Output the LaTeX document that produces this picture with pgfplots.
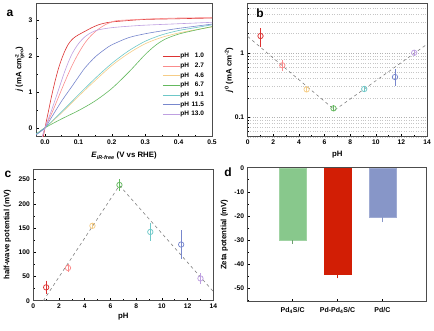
\documentclass[border=0pt]{standalone}
\usepackage{pgfplots}
\pgfplotsset{compat=1.18}
\usepackage{fontspec}
\setmainfont{Liberation Sans}
\definecolor{cRed}{RGB}{220,50,50}
\definecolor{cPink}{RGB}{250,140,140}
\definecolor{cYel}{RGB}{245,205,135}
\definecolor{cGrn}{RGB}{100,185,95}
\definecolor{cCyan}{RGB}{110,200,200}
\definecolor{cBlue}{RGB}{120,135,205}
\definecolor{cPurp}{RGB}{190,160,225}
\definecolor{bGrn}{RGB}{136,200,140}
\definecolor{bRed}{RGB}{210,30,5}
\definecolor{bBlue}{RGB}{135,150,200}
\begin{document}
\begin{tikzpicture}[x=1pt,y=1pt]
\path[use as bounding box] (0,0) rectangle (434,330);
\pgfplotsset{
 common/.style={scale only axis, anchor=south west, tick align=inside,
  xtick pos=left, ytick pos=left, major tick length=2.5pt, minor tick length=1.5pt,
  axis line style={line width=0.5pt, black!70},
  tick style={black, line width=0.5pt},
  ticklabel style={font=\fontsize{6.7}{7}\selectfont\bfseries},
  label style={font=\fontsize{7.8}{8}\selectfont\bfseries},
  /pgf/number format/assume math mode=true,
  every axis plot/.append style={line width=0.75pt}},
 pt/.style={only marks, mark=o, mark size=2.7pt, color=#1,
  error bars/y dir=both, error bars/y explicit,
  error bars/error bar style={color=#1, line width=0.7pt},
  error bars/error mark options={line width=0.7pt, mark size=2pt, color=#1}}
}
% ---------- a ----------
\begin{axis}[common, at={(36pt,194pt)}, width=176pt, height=133pt,
 xmin=-0.027, xmax=0.5, ymin=-0.23, ymax=3.49,
 xtick={0,0.1,0.2,0.3,0.4,0.5},
 xticklabel style={/pgf/number format/.cd, fixed, fixed zerofill, precision=1},
 ytick={0,1,2,3}, minor xtick={0.05,0.15,0.25,0.35,0.45}, minor ytick={0.5,1.5,2.5},
 xlabel={\textit{E}\textsubscript{\textit{iR}-\textit{free}} (V vs RHE)},
 ylabel={\textit{j} (mA cm\makebox[0pt][l]{\raisebox{0.7ex}{\fontsize{5}{5}\selectfont -2}}\raisebox{-0.5ex}{\fontsize{5}{5}\selectfont geo})},
 x label style={at={(axis description cs:0.5,-0.15)}, anchor=center},
 y label style={at={(axis description cs:-0.092,0.5)}, anchor=center},
 legend style={at={(axis description cs:0.957,0.625)}, anchor=north east, draw=none, fill=none,
  font=\fontsize{6.5}{7}\selectfont\bfseries, row sep=3pt, inner sep=0pt, nodes={inner sep=0.3pt}},
 legend cell align=left,
 every axis plot/.append style={line width=0.6pt}]
\addplot[cRed, smooth] coordinates {(-0.01,-0.5)(0,0)(0.01,0.45)(0.02,0.9)(0.03,1.3)(0.04,1.65)(0.05,1.93)(0.06,2.16)(0.07,2.34)(0.08,2.46)(0.09,2.54)(0.1,2.6)(0.12,2.7)(0.14,2.8)(0.16,2.88)(0.18,2.93)(0.2,2.96)(0.25,3.0)(0.3,3.03)(0.4,3.05)(0.5,3.07)};
\addlegendentry{pH\ \makebox[2em][r]{1.0}}
\addplot[cPink, smooth] coordinates {(-0.01,-0.35)(0,0)(0.02,0.4)(0.04,0.85)(0.06,1.3)(0.08,1.72)(0.1,2.08)(0.12,2.38)(0.14,2.6)(0.16,2.76)(0.18,2.88)(0.2,2.96)(0.22,3.0)(0.3,3.04)(0.4,3.07)(0.5,3.08)};
\addlegendentry{pH\ \makebox[2em][r]{2.7}}
\addplot[cYel, smooth] coordinates {(-0.027,-0.17)(0,0)(0.05,0.42)(0.1,0.88)(0.15,1.32)(0.2,1.74)(0.25,2.08)(0.3,2.35)(0.35,2.53)(0.4,2.65)(0.45,2.74)(0.5,2.82)};
\addlegendentry{pH\ \makebox[2em][r]{4.6}}
\addplot[cGrn, smooth] coordinates {(-0.027,-0.18)(0,0)(0.05,0.25)(0.1,0.48)(0.15,0.75)(0.2,1.1)(0.25,1.55)(0.28,1.85)(0.3,2.05)(0.33,2.3)(0.36,2.48)(0.4,2.62)(0.45,2.73)(0.5,2.83)};
\addlegendentry{pH\ \makebox[2em][r]{6.7}}
\addplot[cCyan, smooth] coordinates {(-0.027,-0.17)(0,0)(0.05,0.45)(0.1,0.92)(0.15,1.38)(0.2,1.8)(0.25,2.15)(0.3,2.42)(0.35,2.6)(0.4,2.72)(0.45,2.8)(0.5,2.88)};
\addlegendentry{pH\ \makebox[2em][r]{9.1}}
\addplot[cBlue, smooth] coordinates {(-0.027,-0.2)(0,0)(0.02,0.3)(0.05,0.75)(0.08,1.15)(0.1,1.42)(0.12,1.68)(0.15,1.98)(0.18,2.2)(0.2,2.32)(0.25,2.52)(0.3,2.63)(0.35,2.71)(0.4,2.78)(0.45,2.84)(0.5,2.9)};
\addlegendentry{pH\ \makebox[2em][r]{11.5}}
\addplot[cPurp, smooth] coordinates {(-0.01,-0.3)(0,0)(0.02,0.5)(0.04,1.05)(0.06,1.6)(0.08,2.05)(0.1,2.35)(0.12,2.55)(0.14,2.67)(0.16,2.74)(0.2,2.8)(0.25,2.84)(0.3,2.87)(0.4,2.91)(0.5,2.95)};
\addlegendentry{pH\ \makebox[2em][r]{13.0}}
\end{axis}
% ---------- b ----------
\begin{axis}[common, at={(247.7pt,193.3pt)}, width=179.3pt, height=133.7pt,
 ymode=log, xmin=0, xmax=14, ymin=0.05, ymax=6,
 xtick={0,2,...,14}, minor xtick={1,3,...,13},
 ytick={0.1,1}, yticklabels={0.1,1},
 minor ytick={0.05,0.06,0.07,0.08,0.09,0.2,0.3,0.4,0.5,0.6,0.7,0.8,0.9,2,3,4,5,6},
 ymajorgrids, yminorgrids, major grid style={dotted, gray!60}, minor grid style={dotted, gray!45},
 xlabel={pH}, ylabel={\textit{j}\textsuperscript{0} (mA cm\textsuperscript{-2})},
 x label style={at={(axis description cs:0.5,-0.137)}, anchor=center},
 y label style={at={(axis description cs:-0.104,0.5)}, anchor=center}]
\addplot[gray, dashed, line width=0.6pt] coordinates {(0,1.81)(6.8,0.13)(14,1.37)};
\addplot[pt=cRed] coordinates {(1.0,1.84) += (0,0.44) -= (0,0.51)};
\addplot[pt=cPink] coordinates {(2.7,0.645) += (0,0.08) -= (0,0.08)};
\addplot[pt=cYel] coordinates {(4.6,0.272) += (0,0.01) -= (0,0.01)};
\addplot[pt=cGrn, mark options={fill=cGrn!60}] coordinates {(6.7,0.138) += (0,0.005) -= (0,0.005)};
\addplot[pt=cCyan] coordinates {(9.1,0.276) += (0,0.01) -= (0,0.01)};
\addplot[pt=cBlue] coordinates {(11.5,0.424) += (0,0.1) -= (0,0.09)};
\addplot[pt=cPurp] coordinates {(13.0,1.01) += (0,0.03) -= (0,0.03)};
\end{axis}
% ---------- c ----------
\begin{axis}[common, at={(33.3pt,29.3pt)}, width=180pt, height=131.7pt,
 xmin=0, xmax=14, ymin=0, ymax=272,
 xtick={0,2,...,14}, minor xtick={1,3,...,13},
 ytick={0,50,...,250}, minor ytick={25,75,...,225},
 xlabel={pH}, ylabel={half-wave potential (mV)},
 x label style={at={(axis description cs:0.5,-0.122)}, anchor=center},
 y label style={at={(axis description cs:-0.144,0.5)}, anchor=center}]
\addplot[gray, dashed, line width=0.6pt] coordinates {(0.78,0)(6.7,238)(14,19)};
\addplot[pt=cRed] coordinates {(1.0,27.6) += (0,9.5) -= (0,9)};
\addplot[pt=cPink] coordinates {(2.7,67.7) += (0,4) -= (0,4)};
\addplot[pt=cYel] coordinates {(4.6,154.7) += (0,2) -= (0,2)};
\addplot[pt=cGrn] coordinates {(6.7,239) += (0,7.5) -= (0,8)};
\addplot[pt=cCyan] coordinates {(9.1,142) += (0,14) -= (0,14)};
\addplot[pt=cBlue] coordinates {(11.5,116) += (0,25) -= (0,25)};
\addplot[pt=cPurp] coordinates {(13.0,46) += (0,7) -= (0,7)};
\end{axis}
% ---------- d ----------
\begin{axis}[common, at={(247.7pt,28.3pt)}, width=178.3pt, height=134pt,
 xmin=-1, xmax=2.97, ymin=-55.7, ymax=0,
 xtick={0,1,2}, xticklabels={Pd\textsubscript{4}S/C, Pd-Pd\textsubscript{4}S/C, Pd/C},
 ytick={0,-10,...,-50}, minor ytick={-5,-15,...,-55},
 ylabel={Zeta potential (mV)},
 y label style={at={(axis description cs:-0.131,0.5)}, anchor=center},
 xticklabel style={yshift=-2pt, font=\fontsize{7}{7}\selectfont\bfseries}]
\addplot[ybar, bar width=26.7pt, bar shift=0pt, fill=bGrn, draw=bGrn!80!white, line width=0.4pt,
 error bars/y dir=minus, error bars/y explicit, error bars/error bar style={color=bGrn!80!black, line width=0.6pt}, error bars/error mark options={line width=0.6pt, mark size=2pt, color=bGrn!80!black}]
 coordinates {(0,-30.3) -= (0,0.4)};
\addplot[ybar, bar width=26.7pt, bar shift=0pt, fill=bRed, draw=bRed, line width=0.4pt,
 error bars/y dir=minus, error bars/y explicit, error bars/error bar style={color=bRed, line width=0.6pt}, error bars/error mark options={line width=0.6pt, mark size=2pt, color=bRed}]
 coordinates {(1,-44.2) -= (0,1.0)};
\addplot[ybar, bar width=26.7pt, bar shift=0pt, fill=bBlue, draw=bBlue!80!white, line width=0.4pt,
 error bars/y dir=minus, error bars/y explicit, error bars/error bar style={color=bBlue, line width=0.6pt}, error bars/error mark options={line width=0.6pt, mark size=2pt, color=bBlue}]
 coordinates {(2,-20.6) -= (0,1.2)};
\end{axis}
% ---------- panel letters ----------
\node[font=\fontsize{12}{12}\selectfont\bfseries] at (10,317) {a};
\node[font=\fontsize{12}{12}\selectfont\bfseries] at (260,317) {b};
\node[font=\fontsize{12}{12}\selectfont\bfseries] at (8,156) {c};
\node[font=\fontsize{12}{12}\selectfont\bfseries] at (228,158) {d};
\end{tikzpicture}
\end{document}
